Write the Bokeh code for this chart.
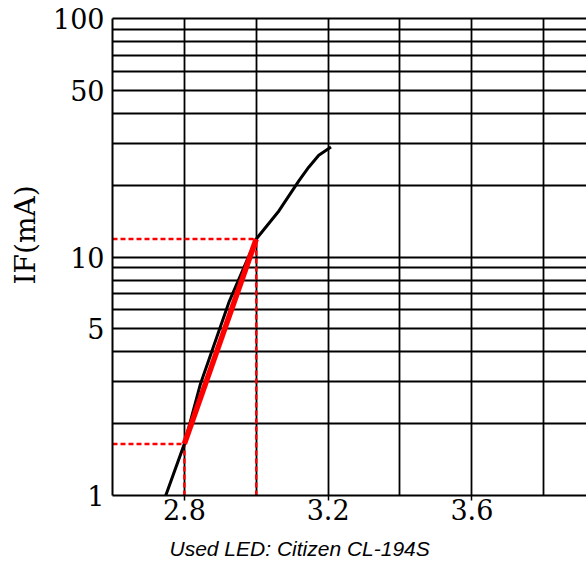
from bokeh.plotting import figure
from bokeh.models import Range1d, FixedTicker, BasicTickFormatter, Title, LogAxis
from bokeh.embed import file_html
from bokeh.resources import INLINE

# Forward voltage (V) vs forward current IF (mA)
voltage = [2.745, 2.80, 2.844, 2.925, 3.00, 3.063, 3.119, 3.146, 3.174, 3.208]
current = [0.97, 1.646, 2.91, 6.52, 11.9, 15.6, 20.9, 23.8, 26.7, 28.9]

# highlighted linear section
red_v = [2.8, 3.0]
red_i = [1.646, 11.9]

x_ticks = [2.8, 3.2, 3.6]
x_grid = [2.6, 2.8, 3.0, 3.2, 3.4, 3.6, 3.8]
y_ticks = [1, 5, 10, 50, 100]
y_grid = [1, 2, 3, 4, 5, 6, 7, 8, 9, 10, 20, 30, 40, 50, 60, 70, 80, 90, 100]
y_label = "IF(mA)"
caption = "Used LED: Citizen CL-194S"

x_start, x_end = 2.6, 3.919
y_start, y_end = 1, 100

p = figure(width=586, height=572, y_axis_type="log",
           x_range=Range1d(x_start, x_end), y_range=Range1d(y_start, y_end),
           output_backend="svg", toolbar_location=None,
           min_border_left=111, min_border_right=0, min_border_top=18,
           min_border_bottom=77)
p.outline_line_color = None
p.background_fill_color = "white"

# grid
p.xgrid.ticker = FixedTicker(ticks=x_grid)
p.ygrid.ticker = FixedTicker(ticks=y_grid)
for g in (p.xgrid, p.ygrid):
    g.grid_line_color = "black"
    g.grid_line_width = 1.8
    g.grid_line_alpha = 1.0

# axes
p.xaxis.ticker = FixedTicker(ticks=x_ticks)
p.yaxis.ticker = FixedTicker(ticks=y_ticks)
p.yaxis.formatter = BasicTickFormatter()
for ax in (p.xaxis, p.yaxis):
    ax.axis_line_color = "black"
    ax.axis_line_width = 2
    ax.major_label_text_font = "DejaVu Serif"
    ax.major_label_text_font_size = "27px"
    ax.major_label_text_color = "black"
    ax.minor_tick_line_color = None
p.xaxis.major_tick_line_color = "black"
p.xaxis.major_tick_line_width = 1.5
p.xaxis.major_tick_in = 0
p.xaxis.major_tick_out = 5
p.xaxis.major_label_standoff = -2
p.yaxis.major_tick_line_color = None
p.yaxis.major_tick_in = 0
p.yaxis.major_tick_out = 0
p.yaxis.major_label_standoff = 8

# y axis title, placed a little above the frame centre as in the reference
ytitle = Title(text=y_label, align="left", offset=211, vertical_align="middle",
               text_font="DejaVu Serif", text_font_style="normal",
               text_font_size="28px", text_color="black", standoff=14)
p.add_layout(ytitle, "left")

# top border line at 100
top = LogAxis(ticker=FixedTicker(ticks=[]), axis_line_color="black", axis_line_width=2,
              major_tick_line_color=None, minor_tick_line_color=None,
              major_label_text_font_size="0px")
p.add_layout(top, "above")

# dashed guide lines
p.line([x_start, red_v[0]], [red_i[0], red_i[0]], line_color="red", line_width=2.5, line_dash="5 3")
p.line([x_start, red_v[1]], [red_i[1], red_i[1]], line_color="red", line_width=2.5, line_dash="5 3")
p.line([red_v[0], red_v[0]], [y_start, red_i[0]], line_color="red", line_width=2.5, line_dash="5 3")
p.line([red_v[1], red_v[1]], [y_start, red_i[1]], line_color="red", line_width=2.5, line_dash="5 3")

# curve
p.line(voltage, current, line_color="black", line_width=3)
p.line(red_v, red_i, line_color="red", line_width=5.5)

cap = Title(text=caption, align="left", offset=57, text_font="Liberation Sans",
            text_font_style="italic", text_font_size="21px", text_color="black",
            standoff=25)
p.add_layout(cap, "below")

open("out.html", "w").write(file_html(p, INLINE))
